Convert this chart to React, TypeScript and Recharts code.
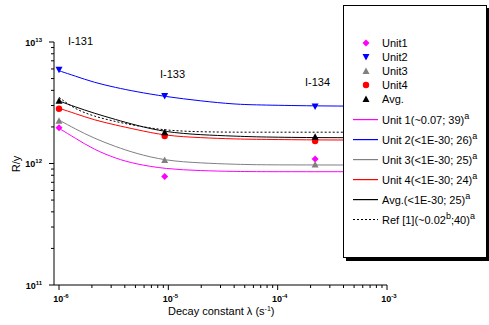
import React from 'react';
import { ComposedChart, Line, Scatter, XAxis, YAxis } from 'recharts';

// measured points (decay constant of each isotope)
const sampleLambda = [1e-6, 9.26e-6, 2.2e-4];
const isotopeNames = ['I-131', 'I-133', 'I-134'];
const unit1Pts = [1.97e12, 7.8e11, 1.09e12];
const unit2Pts = [5.9e12, 3.6e12, 2.94e12];
const unit3Pts = [2.25e12, 1.07e12, 9.8e11];
const unit4Pts = [2.82e12, 1.68e12, 1.53e12];
const avgPts = [3.29e12, 1.81e12, 1.66e12];

// fitted curves
const fitLambda = [1e-6, 1.4e-6, 2.1e-6, 3.3e-6, 5e-6, 9.4e-6, 2e-5, 4e-5, 7e-5, 2.5e-4, 1e-3];
const unit1Fit = [1.95e12, 1.62e12, 1.3e12, 1.1e12, 9.91e11, 9.01e11, 8.72e11, 8.6e11, 8.56e11, 8.56e11, 8.56e11];
const unit2Fit = [5.8e12, 5.25e12, 4.64e12, 4.22e12, 3.91e12, 3.55e12, 3.27e12, 3.07e12, 3.03e12, 2.97e12, 2.96e12];
const unit3Fit = [2.28e12, 1.93e12, 1.61e12, 1.375e12, 1.213e12, 1.054e12, 1.009e12, 9.85e11, 9.75e11, 9.72e11, 9.72e11];
const unit4Fit = [2.85e12, 2.58e12, 2.28e12, 2.07e12, 1.91e12, 1.69e12, 1.63e12, 1.59e12, 1.58e12, 1.56e12, 1.56e12];
const avgFit = [3.27e12, 2.93e12, 2.59e12, 2.3e12, 2.07e12, 1.81e12, 1.72e12, 1.68e12, 1.65e12, 1.63e12, 1.63e12];
const refFit = [3.5e12, 2.8e12, 2.44e12, 2.21e12, 2.05e12, 1.87e12, 1.82e12, 1.81e12, 1.81e12, 1.81e12, 1.81e12];

const xTicks = [-6, -5, -4].flatMap((e) => [1, 2, 3, 4, 5, 6, 7, 8, 9].map((m) => m * 10 ** e)).concat([1e-3]);
const yTicks = [11, 12].flatMap((e) => [1, 2, 3, 4, 5, 6, 7, 8, 9].map((m) => m * 10 ** e)).concat([1e13]);

const FONT = '"Liberation Sans", Arial, sans-serif';
const MAGENTA = '#FF00FF';
const BLUE = '#0000FF';
const GRAY = '#808080';
const RED = '#FF0000';
const BLACK = '#000000';

const pts = (xs: number[], ys: number[]) => xs.map((x, i) => ({ x, y: ys[i] }));

const isMajor = (v: number) => Math.abs(Math.log10(v) - Math.round(Math.log10(v))) < 1e-6;

const XTick = (props: any) => {
  const { x, y, payload } = props;
  const v = payload.value;
  const major = isMajor(v);
  return (
    <g>
      <line x1={x} x2={x} y1={y} y2={y + (major ? 5 : 3)} stroke={BLACK} />
      {major && (
        <text x={x + 2} y={y + 17} textAnchor="middle" fontFamily={FONT} fontWeight="bold" fontSize={9} fill={BLACK}>
          10<tspan dy={-4} fontSize={6}>{Math.round(Math.log10(v))}</tspan>
        </text>
      )}
    </g>
  );
};

const YTick = (props: any) => {
  const { x, y, payload } = props;
  const v = payload.value;
  const major = isMajor(v);
  return (
    <g>
      <line x1={x} x2={x - (major ? 5 : 3)} y1={y} y2={y} stroke={BLACK} />
      {major && (
        <text x={x - 12} y={y + 3.5} textAnchor="end" fontFamily={FONT} fontWeight="bold" fontSize={9} fill={BLACK}>
          10<tspan dy={-4} fontSize={6}>{Math.round(Math.log10(v))}</tspan>
        </text>
      )}
    </g>
  );
};

const marker = (kind: string, cx: number, cy: number, color: string) => {
  const r = 3.5;
  if (kind === 'diamond')
    return <polygon points={`${cx},${cy - r} ${cx + r},${cy} ${cx},${cy + r} ${cx - r},${cy}`} fill={color} />;
  if (kind === 'down')
    return <polygon points={`${cx - r},${cy - r + 0.5} ${cx + r},${cy - r + 0.5} ${cx},${cy + r}`} fill={color} />;
  if (kind === 'up')
    return <polygon points={`${cx - r},${cy + r - 0.5} ${cx + r},${cy + r - 0.5} ${cx},${cy - r}`} fill={color} />;
  return <circle cx={cx} cy={cy} r={3.2} fill={color} />;
};

const shapeOf = (kind: string, color: string) => (p: any) => marker(kind, p.cx, p.cy, color);

const markerLegend = [
  { name: 'Unit1', kind: 'diamond', color: MAGENTA },
  { name: 'Unit2', kind: 'down', color: BLUE },
  { name: 'Unit3', kind: 'up', color: GRAY },
  { name: 'Unit4', kind: 'circle', color: RED },
  { name: 'Avg.', kind: 'up', color: BLACK },
];

const lineLegend = [
  { name: 'Unit 1(~0.07; 39)', color: MAGENTA },
  { name: 'Unit 2(<1E-30; 26)', color: BLUE },
  { name: 'Unit 3(<1E-30; 25)', color: GRAY },
  { name: 'Unit 4(<1E-30; 24)', color: RED },
  { name: 'Avg.(<1E-30; 25)', color: BLACK },
];

export default function App() {
  return (
    <div style={{ position: 'absolute', left: 0, top: 0, width: 489, height: 325, background: '#fff' }}>
      <ComposedChart width={489} height={325} margin={{ top: 42, right: 102, bottom: 0, left: 0 }}>
        <XAxis
          dataKey="x"
          type="number"
          scale="log"
          domain={[9e-7, 1e-3]}
          allowDataOverflow
          ticks={xTicks}
          interval={0}
          tick={<XTick />}
          tickLine={false}
          tickSize={0}
          tickMargin={0}
          height={40}
          axisLine={{ stroke: BLACK }}
        />
        <YAxis
          dataKey="y"
          type="number"
          scale="log"
          domain={[1e11, 1e13]}
          allowDataOverflow
          ticks={yTicks}
          interval={0}
          tick={<YTick />}
          tickLine={false}
          tickSize={0}
          tickMargin={0}
          width={54}
          axisLine={{ stroke: BLACK }}
        />
        <Line data={pts(fitLambda, unit1Fit)} dataKey="y" type="basis" stroke={MAGENTA} strokeWidth={1} dot={false} isAnimationActive={false} />
        <Line data={pts(fitLambda, unit2Fit)} dataKey="y" type="basis" stroke={BLUE} strokeWidth={1} dot={false} isAnimationActive={false} />
        <Line data={pts(fitLambda, unit3Fit)} dataKey="y" type="basis" stroke={GRAY} strokeWidth={1} dot={false} isAnimationActive={false} />
        <Line data={pts(fitLambda, unit4Fit)} dataKey="y" type="basis" stroke={RED} strokeWidth={1} dot={false} isAnimationActive={false} />
        <Line data={pts(fitLambda, refFit)} dataKey="y" type="basis" stroke={BLACK} strokeWidth={1} strokeDasharray="2 2" dot={false} isAnimationActive={false} />
        <Line data={pts(fitLambda, avgFit)} dataKey="y" type="basis" stroke={BLACK} strokeWidth={1} dot={false} isAnimationActive={false} />
        <Scatter data={pts(sampleLambda, unit1Pts)} dataKey="y" shape={shapeOf('diamond', MAGENTA)} isAnimationActive={false} />
        <Scatter data={pts(sampleLambda, unit2Pts)} dataKey="y" shape={shapeOf('down', BLUE)} isAnimationActive={false} />
        <Scatter data={pts(sampleLambda, unit3Pts)} dataKey="y" shape={shapeOf('up', GRAY)} isAnimationActive={false} />
        <Scatter data={pts(sampleLambda, unit4Pts)} dataKey="y" shape={shapeOf('circle', RED)} isAnimationActive={false} />
        <Scatter data={pts(sampleLambda, avgPts)} dataKey="y" shape={shapeOf('up', BLACK)} isAnimationActive={false} />
      </ComposedChart>

      <svg width={489} height={325} style={{ position: 'absolute', left: 0, top: 0, pointerEvents: 'none' }}>
        <g fontFamily={FONT} fontSize={11} fill={BLACK}>
          <text x={68} y={45}>{isotopeNames[0]}</text>
          <text x={160} y={78}>{isotopeNames[1]}</text>
          <text x={305} y={86}>{isotopeNames[2]}</text>
          <text x={168} y={315}>
            Decay constant λ (s<tspan dy={-4} fontSize={7}>-1</tspan><tspan dy={4}>)</tspan>
          </text>
          <text transform="translate(20,164) rotate(-90)" textAnchor="middle">R/y</text>
        </g>

        {/* legend box */}
        <rect x={346} y={8} width={144} height={253} fill={BLACK} />
        <rect x={343.5} y={5.5} width={143} height={252} fill="#fff" stroke={BLACK} strokeWidth={1} />
        <g fontFamily={FONT} fontSize={11}>
          {markerLegend.map((m, i) => (
            <g key={m.name}>
              {marker(m.kind, 366, 43 + i * 14, m.color)}
              <text x={382} y={47 + i * 14} fill={BLACK}>{m.name}</text>
            </g>
          ))}
          {lineLegend.map((l, i) => (
            <g key={l.name}>
              <rect x={353} y={119 + i * 20} width={25} height={1.2} fill={l.color} />
              <text x={382} y={123.5 + i * 20} fill={BLACK}>
                {l.name}<tspan dy={-5} fontSize={9}>a</tspan>
              </text>
            </g>
          ))}
          <line x1={353} x2={378} y1={219.5} y2={219.5} stroke={BLACK} strokeWidth={1} strokeDasharray="2 2" />
          <text x={382} y={223.5} fill={BLACK}>
            Ref [1](~0.02<tspan dy={-5} fontSize={9}>b</tspan><tspan dy={5}>;40)</tspan><tspan dy={-5} fontSize={9}>a</tspan>
          </text>
        </g>
      </svg>
    </div>
  );
}
